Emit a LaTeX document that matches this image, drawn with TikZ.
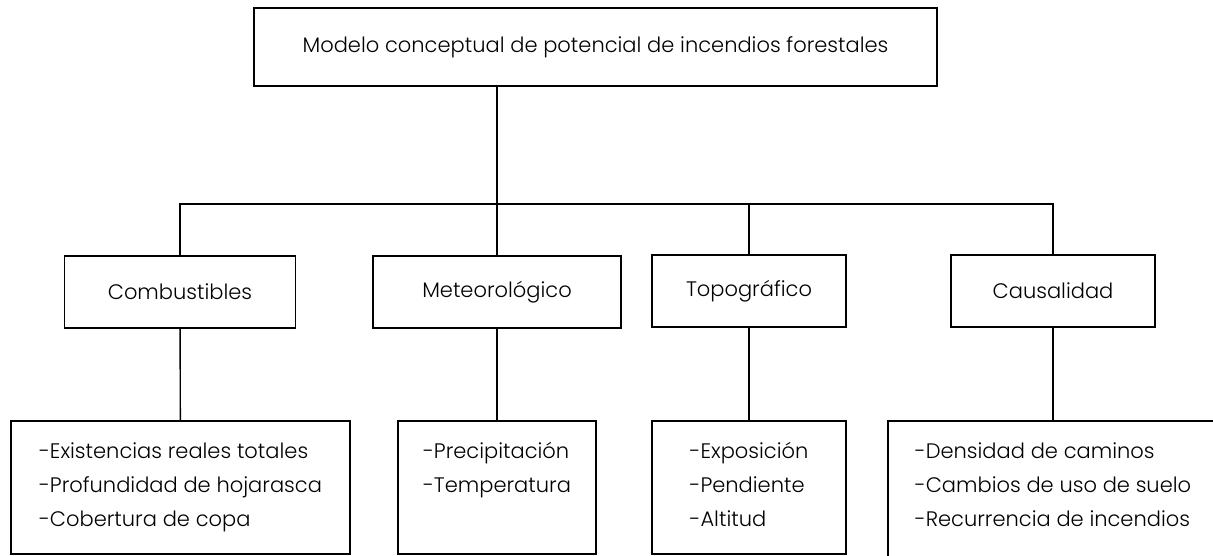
\documentclass[tikz,border=0pt]{standalone}
\usepackage{fontspec}
\setmainfont{Poppins Light}
\usetikzlibrary{positioning}
\tikzset{
x=1pt, y=-1pt, % one unit per pixel of the page, y going down
box/.style={draw, line width=1.8pt, font=\fontsize{21}{34}\selectfont}, % every framed node
title/.style={box, minimum width=683pt, minimum height=78pt}, % the model box on top
group/.style={box, minimum height=72pt}, % the four groups
list/.style={box, anchor=north, inner xsep=0pt, inner ysep=14pt, text depth=81pt}, % the lists under each group
link/.style={line width=1.4pt}, % plain connecting lines
}

\begin{document}
\begin{tikzpicture}
\clip (0,0) rectangle (1213,555);

\node[title] (model) at (595.5,47) {Modelo conceptual de potencial de incendios forestales};

\node[group, minimum width=231pt] (comb) at (180,292) {Combustibles};
\node[group, minimum width=248pt] (meteo) at (497,292) {Meteorológico};
\node[group, minimum width=194pt] (topo) at (749,291) {Topográfico};
\node[group, minimum width=204pt] (causal) at (1053,291) {Causalidad};
\coordinate (split) at (497,204);

\node[list, minimum width=339pt] (comblist) at (180.5,420) {\begin{tabular}[t]{@{}l@{}}-Existencias reales totales\\-Profundidad de hojarasca\\-Cobertura de copa\end{tabular}};
\node[list, minimum width=198pt] (meteolist) at (497,420) {\begin{tabular}[t]{@{}l@{}}-Precipitación\\-Temperatura\end{tabular}};
\node[list, minimum width=194pt] (topolist) at (749,420) {\begin{tabular}[t]{@{}l@{}}-Exposición\\-Pendiente\\-Altitud\end{tabular}};
\node[list, minimum width=330pt, text depth=110pt] (causallist) at (1053,420) {\begin{tabular}[t]{@{}l@{}}-Densidad de caminos\\-Cambios de uso de suelo\\-Recurrencia de incendios\end{tabular}};

\draw[link] (model.south -| split) -- (meteo.north);
\draw[link] (comb.north) |- (causal.north |- split) -- (causal.north);
\draw[link] (topo.north) -- (topo.north |- split);
\draw[link] (comb) -- (comblist);
\draw[link] (meteo) -- (meteolist);
\draw[link] (topo) -- (topolist);
\draw[link] (causal) -- (causallist);

\end{tikzpicture}
\end{document}
